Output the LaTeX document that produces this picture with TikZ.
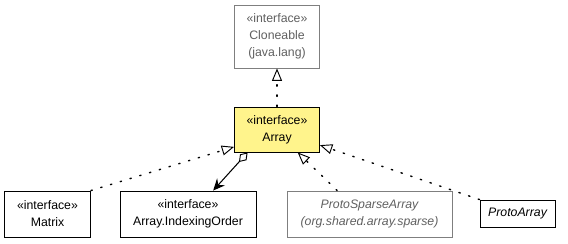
\documentclass[tikz,border=0pt]{standalone}
\usepackage{fontspec}
\setmainfont{Liberation Sans}
\usetikzlibrary{positioning,arrows.meta}
\definecolor{uifill}{HTML}{FFF48C}
\definecolor{uigray}{HTML}{7F7F7F}
\definecolor{uitext}{HTML}{606060}
\tikzset{ubox/.style={rectangle, draw=black, fill=white, line width=0.8pt, inner sep=2pt, align=center, font=\fontsize{10.5}{14.5}\selectfont}}
\tikzset{umain/.style={ubox, fill=uifill}}
\tikzset{uext/.style={ubox, draw=uigray, text=uitext}}
\tikzset{urealize/.style={-{Triangle[open, length=10.5pt, width=8.5pt, fill=white, line width=0.8pt]}, line width=1.2pt, dash pattern=on 1.2pt off 7.5pt, line cap=round}}
\tikzset{uaggr/.style={{Diamond[open, length=11pt, width=7.5pt, fill=white, line width=0.8pt]}-{Stealth[length=10pt, width=9pt, inset=3.5pt]}, line width=0.9pt}}

\begin{document}
\begin{tikzpicture}[x=0.03cm, y=-0.03cm]
  \useasboundingbox (0,0) rectangle (568,243);

  \node[uext, minimum width=85*0.03cm, minimum height=63*0.03cm] (cloneable) at (277,36.5) {«interface»\\Cloneable\\(java.lang)};
  \node[umain, minimum width=85*0.03cm, minimum height=45*0.03cm] (array) at (277,129.5) {«interface»\\Array};

  \node[ubox, minimum width=86*0.03cm, minimum height=46*0.03cm] (matrix) at (47.5,214) {«interface»\\Matrix};
  \node[ubox, minimum width=136*0.03cm, minimum height=46*0.03cm] (order) at (188,214) {«interface»\\Array.IndexingOrder};
  \node[uext, minimum width=165*0.03cm, minimum height=46*0.03cm, font=\fontsize{10.5}{14.5}\selectfont\itshape] (sparse) at (369.5,214) {ProtoSparseArray\\(org.shared.array.sparse)};
  \node[ubox, minimum width=75*0.03cm, minimum height=27*0.03cm, font=\fontsize{10.5}{14.5}\selectfont\itshape] (proto) at (517.5,213.5) {ProtoArray};

  \draw[urealize] (array.north) -- (cloneable.south);
  \draw[urealize] (matrix.north east) -- (array.202);
  \draw[urealize] (sparse.144) -- (array.312);
  \draw[urealize] (proto.north west) -- (array.340);
  \draw[uaggr] (array.218) -- (order.43);
\end{tikzpicture}
\end{document}
